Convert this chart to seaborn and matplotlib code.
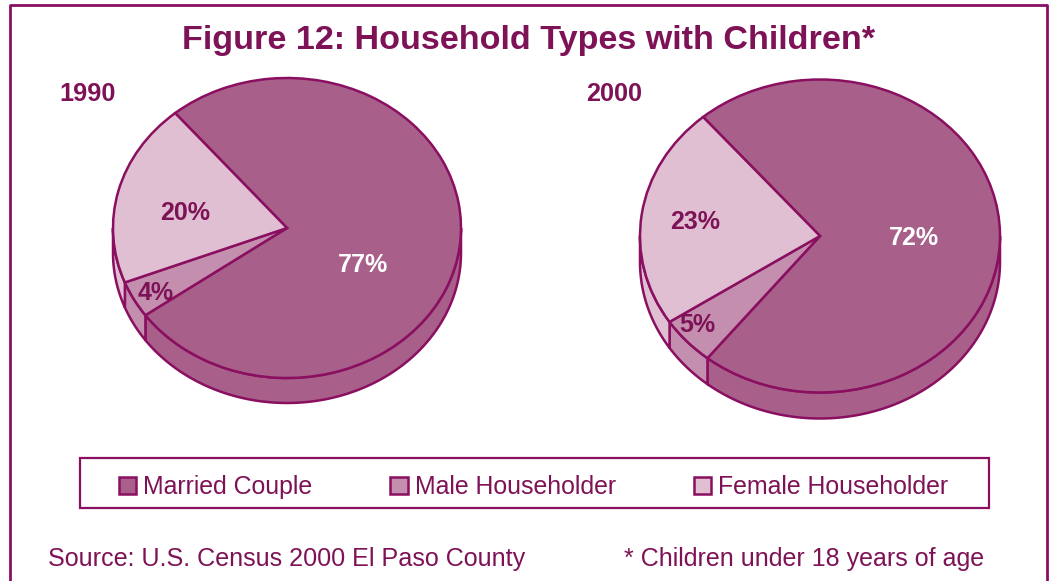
import numpy as np
import matplotlib
matplotlib.use('Agg')
import matplotlib.pyplot as plt
import seaborn as sns
from matplotlib.lines import Line2D
from matplotlib.patches import Patch, Rectangle

# Data
categories = ['Married Couple', 'Male Householder', 'Female Householder']
shares_1990 = [77, 4, 20]
shares_2000 = [72, 5, 23]

W, H = 1053, 581
LINE = '#8A0F60'
TEXT = '#7E1257'

sns.set_theme(style='white')
plt.rcParams['font.family'] = ['Liberation Sans', 'DejaVu Sans']
palette = sns.color_palette(['#A8608A', '#C48FAF', '#E0BFD3'])

fig = plt.figure(figsize=(W / 100, H / 100), dpi=100, facecolor='white')


def fx(px):
    return px / W


def fy(px):
    return 1 - px / H


def draw_pie(values, cx, cy, rx, ry, depth, start, year, year_xy, label_xy):
    d = depth / ry
    ax = fig.add_axes([fx(cx - rx), fy(cy + ry + depth), 2 * rx / W, (2 * ry + depth) / H])

    wedges, _ = ax.pie(values, colors=palette, startangle=start, counterclock=False,
                       wedgeprops=dict(edgecolor=LINE, linewidth=1.8, zorder=3, clip_on=False))

    # side wall of the disc, only the front half shows
    for w, color in zip(wedges, palette):
        for shift in (-360, 0, 360):
            a = max(w.theta1 + shift, 180)
            b = min(w.theta2 + shift, 360)
            if a >= b:
                continue
            t = np.radians(np.linspace(a, b, 120))
            xs = np.r_[np.cos(t), np.cos(t[::-1])]
            ys = np.r_[np.sin(t), np.sin(t[::-1]) - d]
            ax.fill(xs, ys, facecolor=color, edgecolor=LINE, linewidth=1.8,
                    zorder=2, clip_on=False)

    ax.set_aspect('auto')
    ax.set_xlim(-1, 1)
    ax.set_ylim(-1 - d, 1)

    for v, (px, py), col in zip(values, label_xy, ['white', TEXT, TEXT]):
        ax.text((px - cx) / rx, (cy - py) / ry, f'{v}%', color=col, fontsize=18,
                fontweight='bold', ha='center', va='center', zorder=5)

    fig.text(fx(year_xy[0]), fy(year_xy[1]), year, color=TEXT, fontsize=18.2,
             fontweight='bold', ha='left', va='center')


draw_pie(shares_1990, 287, 228, 174, 150, 25, 130, '1990', (59, 94),
         [(363, 265), (156, 293), (185, 213)])
draw_pie(shares_2000, 820, 236, 180, 156.5, 26, 130.5, '2000', (586, 94),
         [(914, 238), (697, 325), (695, 222)])

fig.text(fx(529), fy(40), 'Figure 12: Household Types with Children*', color=TEXT,
         fontsize=24.6, fontweight='bold', ha='center', va='center')

# outer border, open at the bottom
fig.add_artist(Line2D([fx(10), fx(10), fx(1047), fx(1047)], [0, fy(5), fy(5), 0],
                      color=LINE, linewidth=2, transform=fig.transFigure))

# legend box
fig.add_artist(Rectangle((fx(80), fy(508)), 909 / W, 50 / H, facecolor='white',
                         edgecolor=LINE, linewidth=1.6, transform=fig.transFigure))
handles = [Patch(facecolor=c, edgecolor=LINE, linewidth=1.8) for c in palette]
fig.legend(handles, categories, loc='center', bbox_to_anchor=(fx(533.5), fy(487)), ncol=3,
           frameon=False, fontsize=17.9, labelcolor=TEXT, handlelength=0.7, handleheight=0.7,
           handletextpad=0.28, columnspacing=3.14, borderpad=0, borderaxespad=0)

fig.text(fx(48), fy(559), 'Source: U.S. Census 2000 El Paso County', color=TEXT,
         fontsize=18.1, ha='left', va='center')
fig.text(fx(984), fy(559), '* Children under 18 years of age', color=TEXT,
         fontsize=18, ha='right', va='center')

fig.savefig('out.png', dpi=100, facecolor='white')
